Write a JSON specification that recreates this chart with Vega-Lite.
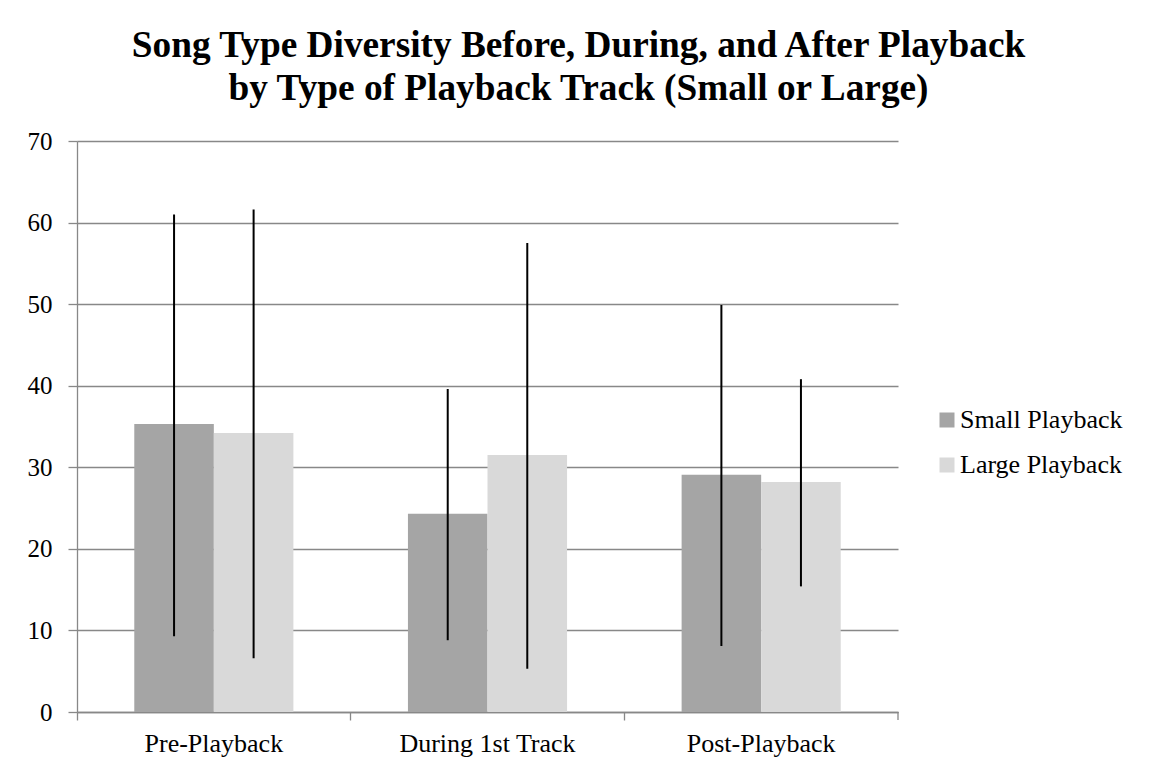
{
  "$schema": "https://vega.github.io/schema/vega-lite/v6.json",
  "width": 821,
  "height": 571,
  "autosize": "none",
  "padding": {"left": 77, "top": 141, "right": 254, "bottom": 59},
  "background": "white",
  "config": {"view": {"stroke": null}},
  "title": {
    "text": ["Song Type Diversity Before, During, and After Playback", "by Type of Playback Track (Small or Large)"],
    "font": "Liberation Serif",
    "fontSize": 37.3,
    "fontWeight": "bold",
    "color": "black",
    "anchor": "middle",
    "frame": "group",
    "dx": 91,
    "offset": 21,
    "lineHeight": 43
  },
  "data": {
    "values": [
      {"phase": "Pre-Playback", "track": "Small Playback", "mean": 35.3, "low": 9.3, "high": 61.0},
      {"phase": "Pre-Playback", "track": "Large Playback", "mean": 34.2, "low": 6.6, "high": 61.6},
      {"phase": "During 1st Track", "track": "Small Playback", "mean": 24.3, "low": 8.8, "high": 39.6},
      {"phase": "During 1st Track", "track": "Large Playback", "mean": 31.5, "low": 5.3, "high": 57.5},
      {"phase": "Post-Playback", "track": "Small Playback", "mean": 29.1, "low": 8.1, "high": 49.9},
      {"phase": "Post-Playback", "track": "Large Playback", "mean": 28.2, "low": 15.4, "high": 40.8}
    ]
  },
  "encoding": {
    "x": {
      "field": "phase",
      "type": "nominal",
      "sort": ["Pre-Playback", "During 1st Track", "Post-Playback"],
      "scale": {"paddingInner": 0, "paddingOuter": 0},
      "axis": {
        "title": null,
        "bandPosition": 0,
        "labelAngle": 0,
        "labelFont": "Liberation Serif",
        "labelFontSize": 26,
        "labelColor": "black",
        "labelPadding": 10,
        "tickSize": 8,
        "tickColor": "#888888",
        "tickWidth": 1.3,
        "domainColor": "#888888",
        "domainWidth": 1.3,
        "grid": false
      }
    }
  },
  "layer": [
    {
      "mark": {"type": "bar"},
      "encoding": {
        "xOffset": {"field": "track", "type": "nominal", "sort": ["Small Playback", "Large Playback"], "scale": {"paddingInner": 0, "paddingOuter": 0.72}},
        "y": {
          "field": "mean",
          "type": "quantitative",
          "scale": {"domain": [0, 70], "nice": false},
          "axis": {
            "title": null,
            "values": [0, 10, 20, 30, 40, 50, 60, 70],
            "grid": true,
            "gridColor": "#888888",
            "gridWidth": 1.3,
            "domainColor": "#888888",
            "domainWidth": 1.3,
            "tickColor": "#888888",
            "tickWidth": 1.3,
            "tickSize": 9,
            "labelFont": "Liberation Serif",
            "labelFontSize": 25,
            "labelColor": "black",
            "labelPadding": 16
          }
        },
        "color": {
          "field": "track",
          "type": "nominal",
          "sort": ["Small Playback", "Large Playback"],
          "scale": {"range": ["#a5a5a5", "#d9d9d9"]},
          "legend": {
            "title": null,
            "orient": "none",
            "legendX": 857,
            "legendY": 266,
            "symbolType": "square",
            "symbolSize": 225,
            "symbolStrokeWidth": 0,
            "symbolOpacity": 1,
            "labelFont": "Liberation Serif",
            "labelFontSize": 26,
            "labelColor": "black",
            "labelOffset": 0,
            "labelLimit": 400,
            "rowPadding": 19,
            "padding": 0
          }
        }
      }
    },
    {
      "mark": {"type": "rule", "color": "black", "strokeWidth": 2},
      "encoding": {
        "xOffset": {"field": "track", "type": "nominal", "sort": ["Small Playback", "Large Playback"]},
        "y": {"field": "low", "type": "quantitative"},
        "y2": {"field": "high"}
      }
    },
    {
      "data": {"values": [{"phase": "Post-Playback"}]},
      "mark": {"type": "rule", "color": "#888888", "strokeWidth": 1.3},
      "encoding": {
        "x": {"field": "phase", "type": "nominal", "bandPosition": 1},
        "y": {"datum": 0},
        "y2": {"datum": -0.98}
      }
    }
  ]
}
